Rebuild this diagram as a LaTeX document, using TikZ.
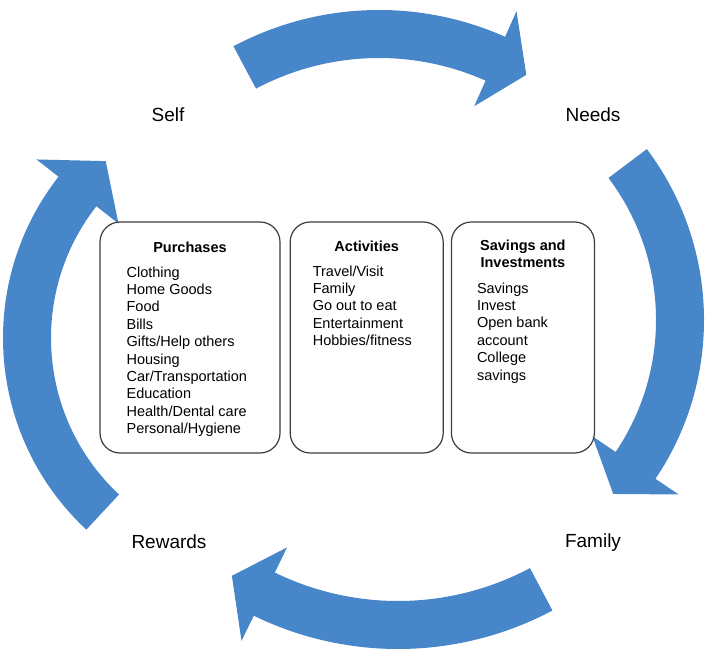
\documentclass[tikz,border=0pt]{standalone}
\usepackage{fontspec}
\setmainfont{Liberation Sans}
\usetikzlibrary{positioning}

\definecolor{cycleblue}{RGB}{72,134,202}
\definecolor{boxgray}{RGB}{60,60,60}

% one arrow of the cycle: centre, radius, tail angle, head angle, tip angle
\newcommand{\cyclearrow}[5]{%
  \begin{scope}[shift={(#1)}]
  \fill[ringarrow] (#3:{#2pt+24pt})
    arc[start angle=#3, end angle=#4, radius={#2pt+24pt}]
    -- (#4:{#2pt+52pt}) -- (#5:{#2pt}) -- (#4:{#2pt-52pt}) -- (#4:{#2pt-24pt})
    arc[start angle=#4, end angle=#3, radius={#2pt-24pt}] -- cycle;
  \end{scope}}

\begin{document}
\begin{tikzpicture}[
    x=1pt, y=1pt,
    ringarrow/.style={fill=cycleblue},
    stage/.style={font=\fontsize{19}{23}\selectfont, anchor=base},
    listbox/.style={rectangle, rounded corners=20pt, draw=boxgray, line width=1.2pt, minimum height=231pt},
    heading/.style={font=\fontsize{14.5}{17.4}\selectfont\bfseries, align=center, anchor=north, inner sep=0pt, execute at begin node=\strut},
    items/.style={font=\fontsize{14.5}{17.4}\selectfont, align=left, anchor=north west, inner sep=0pt, execute at begin node=\strut}
]
\useasboundingbox (0,0) rectangle (708,656);

% Cycle arrows
\cyclearrow{379,336}{286}{118}{66}{59}
\cyclearrow{420,336}{260}{37}{-34}{-42}
\cyclearrow{398,336}{305}{-62}{-116}{-123}
\cyclearrow{265,318}{238}{227}{142}{132}

% Stages
\node[stage] (self) at (168,534) {Self};
\node[stage] (needs) at (593,534) {Needs};
\node[stage] (family) at (593,109) {Family};
\node[stage] (rewards) at (169,108) {Rewards};

% Boxes
\node[listbox, minimum width=180pt] (purch) at (190,318.5) {};
\node[listbox, minimum width=153pt, right=9pt of purch] (act) {};
\node[listbox, minimum width=143pt, right=7pt of act] (save) {};

% Purchases
\node[heading] (purchhead) at ([yshift=-19pt]purch.north) {Purchases};
\node[items] (purchlist) at ([xshift=27pt, yshift=-45pt]purch.north west)
  {Clothing\\Home Goods\\Food\\Bills\\Gifts/Help others\\Housing\\Car/Transportation\\Education\\Health/Dental care\\Personal/Hygiene};

% Activities
\node[heading] (acthead) at ([yshift=-18pt]act.north) {Activities};
\node[items] (actlist) at ([xshift=23pt, yshift=-44pt]act.north west)
  {Travel/Visit\\Family\\Go out to eat\\Entertainment\\Hobbies/fitness};

% Savings and investments
\node[heading] (savehead) at ([yshift=-18pt]save.north) {Savings and\\Investments};
\node[items] (savelist) at ([xshift=26pt, yshift=-61pt]save.north west)
  {Savings\\Invest\\Open bank\\account\\College\\savings};

\end{tikzpicture}
\end{document}
